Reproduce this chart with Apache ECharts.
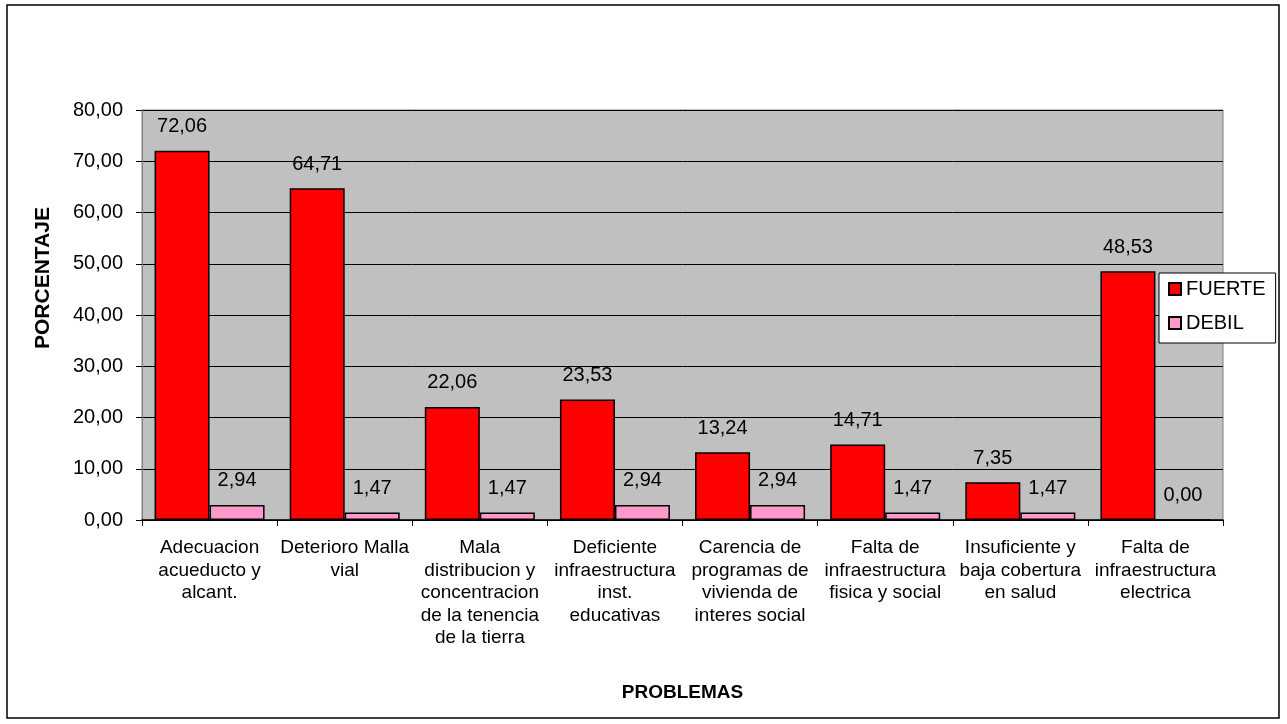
<!DOCTYPE html>
<html>
<head>
<meta charset="utf-8">
<title>Problemas</title>
<script src="https://cdn.jsdelivr.net/npm/echarts@6/dist/echarts.min.js"></script>
<style>
  html, body { margin: 0; padding: 0; background: #fff; }
  #chart { width: 1287px; height: 724px; }
</style>
</head>
<body>
<div id="chart"></div>
<script>
// categorias (eje x)
const categories = [
  "Adecuacion\nacueducto y\nalcant.",
  "Deterioro Malla\nvial",
  "Mala\ndistribucion y\nconcentracion\nde la tenencia\nde la tierra",
  "Deficiente\ninfraestructura\ninst.\neducativas",
  "Carencia de\nprogramas de\nvivienda de\ninteres social",
  "Falta de\ninfraestructura\nfisica y social",
  "Insuficiente y\nbaja cobertura\nen salud",
  "Falta de\ninfraestructura\nelectrica"
];

// porcentajes
const fuerte = [72.06, 64.71, 22.06, 23.53, 13.24, 14.71, 7.35, 48.53];
const debil = [2.94, 1.47, 1.47, 2.94, 2.94, 1.47, 1.47, 0.0];

const FONT = "Liberation Sans";
const fmt = (v) => Number(v).toFixed(2).replace(".", ",");

const chart = echarts.init(document.getElementById("chart"));

const labelStyle = {
  show: true,
  position: "top",
  distance: 14,
  color: "#000",
  fontFamily: FONT,
  fontSize: 20,
  formatter: (p) => fmt(p.value)
};

const option = {
  animation: false,
  backgroundColor: "#fff",
  textStyle: { fontFamily: FONT },
  graphic: [
    {
      type: "rect",
      shape: { x: 7, y: 5, width: 1272, height: 713 },
      style: { fill: "none", stroke: "#000", lineWidth: 1.5 },
      z: 100
    },
    // titulo del eje y
    {
      type: "text",
      x: 43,
      y: 278,
      rotation: Math.PI / 2,
      style: {
        text: "PORCENTAJE",
        fontFamily: FONT,
        fontSize: 21,
        fontWeight: "bold",
        fill: "#000",
        align: "center",
        verticalAlign: "middle"
      }
    }
  ],
  grid: {
    left: 142,
    right: 64,
    top: 110,
    bottom: 204,
    show: true,
    backgroundColor: "#C0C0C0",
    borderColor: "#808080",
    borderWidth: 1
  },
  legend: {
    orient: "vertical",
    left: 1159,
    top: 273,
    backgroundColor: "#fff",
    borderColor: "#000",
    borderWidth: 1,
    padding: [6, 10, 10, 9],
    itemWidth: 12,
    itemHeight: 12,
    itemGap: 14,
    icon: "rect",
    textStyle: { fontFamily: FONT, fontSize: 20, color: "#000", lineHeight: 20 },
    data: ["FUERTE", "DEBIL"]
  },
  xAxis: {
    type: "category",
    data: categories,
    name: "PROBLEMAS",
    nameLocation: "middle",
    nameGap: 163,
    nameTextStyle: { fontFamily: FONT, fontSize: 19, fontWeight: "bold", color: "#000" },
    axisLine: { lineStyle: { color: "#000", width: 1.5 } },
    axisTick: { show: true, length: 6, lineStyle: { color: "#000" } },
    axisLabel: {
      color: "#000",
      fontFamily: FONT,
      fontSize: 19,
      lineHeight: 22.5,
      margin: 17,
      interval: 0
    }
  },
  yAxis: {
    type: "value",
    min: 0,
    max: 80,
    interval: 10,
    axisLine: { show: true, lineStyle: { color: "#808080" } },
    axisTick: { show: true, length: 6, lineStyle: { color: "#000" } },
    axisLabel: {
      color: "#000",
      fontFamily: FONT,
      fontSize: 20,
      margin: 19,
      formatter: (v) => fmt(v)
    },
    splitLine: { show: true, lineStyle: { color: "#000", width: 1 } }
  },
  series: [
    {
      name: "FUERTE",
      type: "bar",
      data: fuerte,
      barWidth: 55,
      barGap: "0%",
      itemStyle: { color: "#FF0000", borderColor: "#000", borderWidth: 1.5 },
      label: labelStyle
    },
    {
      name: "DEBIL",
      type: "bar",
      data: debil,
      barWidth: 55,
      barGap: "0%",
      itemStyle: { color: "#FF99CC", borderColor: "#000", borderWidth: 1.5 },
      label: labelStyle
    }
  ]
};

chart.setOption(option);
</script>
</body>
</html>
